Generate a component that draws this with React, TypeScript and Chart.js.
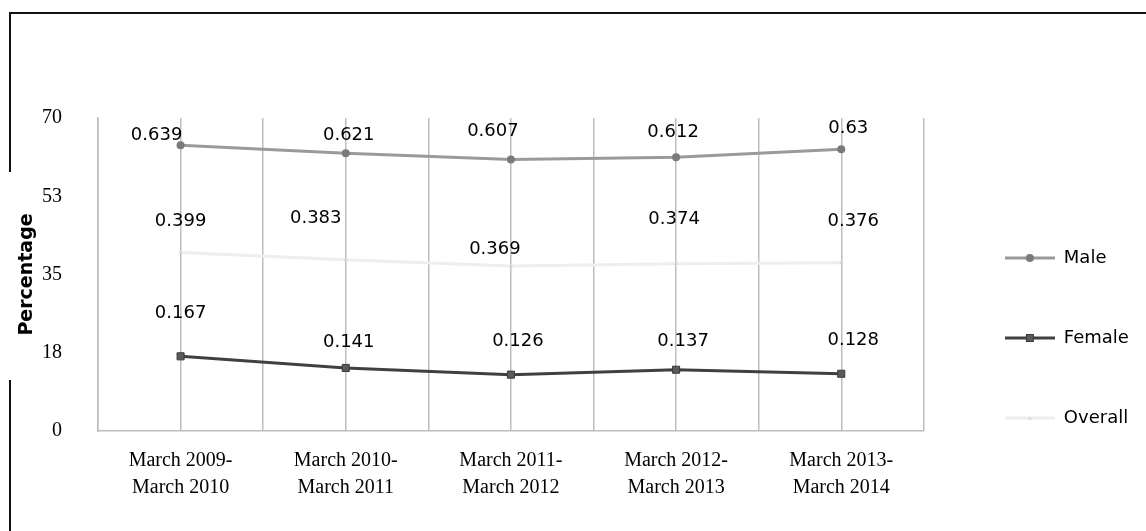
import React, { useEffect, useRef } from 'react';
import { Chart, registerables } from 'chart.js';

Chart.register(...registerables);

// ---- data ----
const categories: string[][] = [
  ['March 2009-', 'March 2010'],
  ['March 2010-', 'March 2011'],
  ['March 2011-', 'March 2012'],
  ['March 2012-', 'March 2013'],
  ['March 2013-', 'March 2014'],
];
const seriesNames = ['Male', 'Female', 'Overall'];
const maleValues = [0.639, 0.621, 0.607, 0.612, 0.63];
const femaleValues = [0.167, 0.141, 0.126, 0.137, 0.128];
const overallValues = [0.399, 0.383, 0.369, 0.374, 0.376];
const yTickValues = [0, 17.5, 35, 52.5, 70];
const yTickLabels = ['0', '18', '35', '53', '70'];

// label placement (pixel offsets from each point, as in the reference)
const maleLabelOffsets = [[-24, -10], [3, -18], [-18, -28], [-3, -25], [7, -21]];
const femaleLabelOffsets = [[0, -43], [3, -26], [7, -33], [7, -28], [12, -33]];
const overallLabelOffsets = [[0, -31], [-30, -41], [-16, -17], [-2, -44], [12, -42]];

const FONT_SANS = '"DejaVu Sans", "Noto Sans", sans-serif';
const FONT_SERIF = '"Liberation Serif", "DejaVu Serif", serif';

const styles = {
  male: { line: '#9a9a9a', point: '#7a7a7a', border: '#7a7a7a' },
  female: { line: '#404040', point: '#5a5a5a', border: '#3a3a3a' },
  overall: { line: '#eeeeee', point: '#d4d4d4', border: '#d4d4d4' },
};

function makeLegendImage(kind: 'male' | 'female' | 'overall'): HTMLCanvasElement {
  const c = document.createElement('canvas');
  c.width = 50;
  c.height = 12;
  const g = c.getContext('2d')!;
  const s = styles[kind];
  g.strokeStyle = s.line;
  g.lineWidth = 3;
  g.beginPath();
  g.moveTo(0, 6);
  g.lineTo(50, 6);
  g.stroke();
  g.fillStyle = s.point;
  if (kind === 'male') {
    g.beginPath();
    g.arc(25, 6, 4, 0, Math.PI * 2);
    g.fill();
  } else if (kind === 'female') {
    g.fillRect(21.5, 2.5, 7, 7);
    g.strokeStyle = s.border;
    g.lineWidth = 1;
    g.strokeRect(21.5, 2.5, 7, 7);
  } else {
    g.beginPath();
    g.moveTo(25, 4.5);
    g.lineTo(27, 7.5);
    g.lineTo(23, 7.5);
    g.closePath();
    g.fill();
  }
  return c;
}

const rawSeries = [maleValues, femaleValues, overallValues];
const offsetSeries = [maleLabelOffsets, femaleLabelOffsets, overallLabelOffsets];

const pointLabelPlugin = {
  id: 'pointLabels',
  afterDatasetsDraw(chart: any) {
    const ctx = chart.ctx;
    ctx.save();
    ctx.font = `18px ${FONT_SANS}`;
    ctx.fillStyle = '#000';
    ctx.textAlign = 'center';
    ctx.textBaseline = 'middle';
    chart.data.datasets.forEach((_ds: any, di: number) => {
      const meta = chart.getDatasetMeta(di);
      const raw = rawSeries[di];
      const offs = offsetSeries[di];
      meta.data.forEach((pt: any, i: number) => {
        ctx.fillText(String(raw[i]), pt.x + offs[i][0], pt.y + offs[i][1]);
      });
    });
    ctx.restore();
  },
};

const frameBorderPlugin = {
  id: 'frameBorder',
  afterDraw(chart: any) {
    const ctx = chart.ctx;
    ctx.save();
    ctx.strokeStyle = '#111';
    ctx.lineWidth = 2;
    ctx.beginPath();
    ctx.moveTo(9, 13);
    ctx.lineTo(chart.width, 13);
    ctx.moveTo(10, 12);
    ctx.lineTo(10, 172);
    ctx.moveTo(10, 380);
    ctx.lineTo(10, chart.height);
    ctx.stroke();
    ctx.restore();
  },
};

export default function App() {
  const canvasRef = useRef<HTMLCanvasElement | null>(null);

  useEffect(() => {
    if (!canvasRef.current) return;
    const legendImages = [makeLegendImage('male'), makeLegendImage('female'), makeLegendImage('overall')];
    const toPoints = (vals: number[]) => vals.map((v, i) => ({ x: i, y: v * 100 }));

    const chart = new Chart(canvasRef.current, {
      type: 'line',
      data: {
        datasets: [
          {
            label: seriesNames[0],
            data: toPoints(maleValues),
            borderColor: styles.male.line,
            backgroundColor: styles.male.point,
            pointBackgroundColor: styles.male.point,
            pointBorderColor: styles.male.border,
            borderWidth: 3,
            pointStyle: 'circle',
            pointRadius: 4,
            pointBorderWidth: 0,
            tension: 0,
          },
          {
            label: seriesNames[1],
            data: toPoints(femaleValues),
            borderColor: styles.female.line,
            backgroundColor: styles.female.point,
            pointBackgroundColor: styles.female.point,
            pointBorderColor: styles.female.border,
            borderWidth: 3,
            pointStyle: 'rect',
            pointRadius: 5,
            pointBorderWidth: 1,
            tension: 0,
          },
          {
            label: seriesNames[2],
            data: toPoints(overallValues),
            borderColor: styles.overall.line,
            backgroundColor: styles.overall.point,
            pointBackgroundColor: styles.overall.point,
            pointBorderColor: styles.overall.border,
            borderWidth: 3,
            pointStyle: 'triangle',
            pointRadius: 2.5,
            pointBorderWidth: 0,
            tension: 0,
          },
        ],
      },
      options: {
        responsive: false,
        animation: false,
        layout: { padding: { top: 118, left: 12, right: 17, bottom: 13 } },
        scales: {
          x: {
            type: 'linear',
            min: -0.5,
            max: categories.length - 0.5,
            afterBuildTicks: (scale: any) => {
              const t: { value: number }[] = [];
              for (let i = 0; i <= categories.length * 2; i++) t.push({ value: -0.5 + i * 0.5 });
              scale.ticks = t;
            },
            grid: { display: true, color: '#bdbdbd', lineWidth: 1.5, drawTicks: false },
            border: { display: true, color: '#bdbdbd', width: 1.5 },
            ticks: {
              autoSkip: false,
              maxRotation: 0,
              minRotation: 0,
              padding: 16.5,
              color: '#000',
              font: { family: FONT_SERIF, size: 20, lineHeight: 1.35 },
              callback: (value: any) => (Number.isInteger(value) ? categories[value] : ''),
            },
          },
          y: {
            type: 'linear',
            min: 0,
            max: 70,
            afterBuildTicks: (scale: any) => {
              scale.ticks = yTickValues.map((v) => ({ value: v }));
            },
            afterFit: (scale: any) => {
              scale.width = 86;
            },
            grid: { display: false, drawTicks: false },
            border: { display: true, color: '#bdbdbd', width: 1.5 },
            ticks: {
              padding: 36,
              color: '#000',
              font: { family: FONT_SERIF, size: 20 },
              callback: (value: any) => {
                const idx = yTickValues.indexOf(value);
                return idx >= 0 ? yTickLabels[idx] : '';
              },
            },
            title: {
              display: true,
              text: 'Percentage',
              color: '#000',
              font: { family: FONT_SANS, size: 19, weight: 'bold' },
              padding: { top: 4, bottom: 0 },
            },
          },
          y2: {
            type: 'linear',
            position: 'right',
            display: true,
            grid: { display: false, drawTicks: false },
            border: { display: false },
            ticks: { display: false },
            afterFit: (scale: any) => {
              scale.width = 19;
            },
          },
        },
        plugins: {
          tooltip: { enabled: false },
          legend: {
            display: true,
            position: 'right',
            align: 'center',
            title: { display: true, text: ' ', font: { size: 10 }, padding: { top: 14, bottom: 14 } },
            labels: {
              usePointStyle: true,
              pointStyleWidth: 50,
              padding: 62,
              color: '#000',
              font: { family: FONT_SANS, size: 18 },
              generateLabels: (ch: any) => {
                const items = (Chart.defaults as any).plugins.legend.labels.generateLabels(ch);
                items.forEach((it: any, i: number) => {
                  it.pointStyle = legendImages[i];
                });
                return items;
              },
            },
          },
        },
      } as any,
      plugins: [pointLabelPlugin, frameBorderPlugin],
    });
    return () => chart.destroy();
  }, []);

  return (
    <div style={{ position: 'absolute', left: 0, top: 0, width: 1146, height: 531, background: '#fff' }}>
      <canvas ref={canvasRef} width={1146} height={531} style={{ display: 'block' }} />
    </div>
  );
}
